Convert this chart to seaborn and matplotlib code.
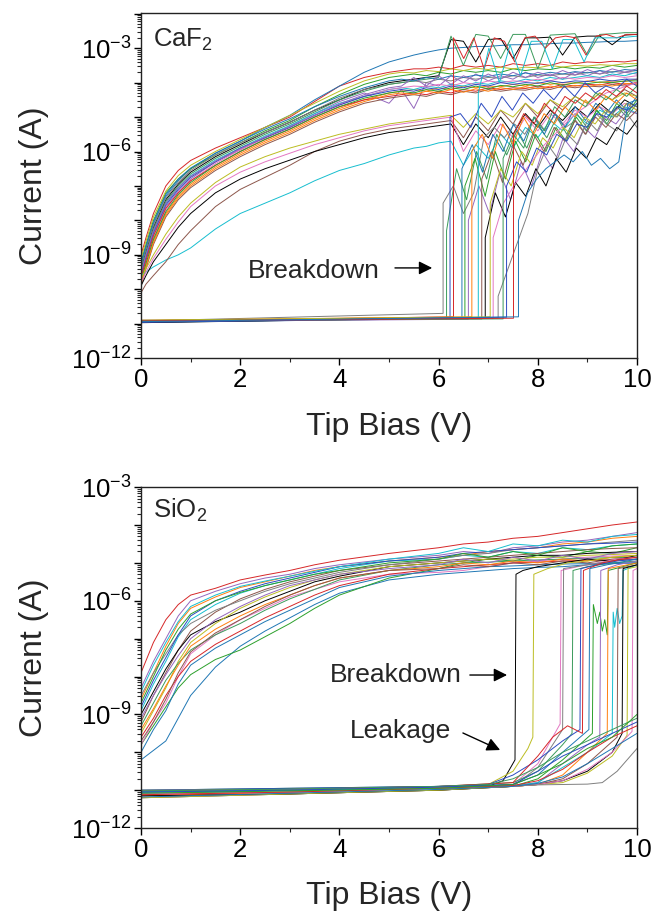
import numpy as np
import pandas as pd
import seaborn as sns
import matplotlib.pyplot as plt
from matplotlib.ticker import LogLocator, FuncFormatter, MultipleLocator

# ---------------- CaF2 panel (values are log10 of current in A) ----------------
caf2_grid = [0, 0.1, 0.25, 0.5, 0.75, 1, 1.5, 2, 2.5, 3, 3.5, 4, 4.5, 5, 5.25, 5.5, 5.75,
             6, 6.25, 6.5, 6.75, 7, 7.25, 7.5, 7.75, 8, 8.25, 8.5, 8.75, 9, 9.25, 9.5, 9.75, 10]

caf2_set = [
    [-9.0, -8.5, -7.8, -7.0, -6.55, -6.26, -5.9, -5.6, -5.3, -5.0, -4.55, -4.1, -3.85, -3.7, -3.65, -3.6, -3.6,
     -3.55, -3.6, -3.5, -3.55, -3.5, -3.55, -3.45, -3.5, -3.45, -3.5, -3.4, -3.45, -3.4, -3.42, -3.38, -3.4, -3.35],
    [-9.3, -8.8, -8.1, -7.3, -6.85, -6.5, -6.05, -5.7, -5.3, -4.95, -4.5, -4.1, -3.7, -3.4, -3.3, -3.2, -3.12,
     -3.05, -3.0, -2.98, -2.95, -2.95, -2.92, -2.9, -2.9, -2.88, -2.87, -2.85, -2.85, -2.83, -2.82, -2.8, -2.8, -2.78],
    [-9.2, -8.7, -8.0, -7.2, -6.8, -6.5, -6.1, -5.75, -5.4, -5.1, -4.7, -4.35, -4.05, -3.85, -3.8, -3.75, -3.8,
     -3.7, -3.75, -3.65, -3.7, -3.65, -3.7, -3.6, -3.65, -3.6, -3.62, -3.55, -3.6, -3.55, -3.58, -3.5, -3.55, -3.5],
    [-9.6, -9.1, -8.4, -7.6, -7.15, -6.8, -6.3, -5.95, -5.6, -5.25, -4.9, -4.55, -4.3, -4.6, -4.2, -4.75, -4.0,
     -4.1, -3.8, -4.0, -3.75, -3.95, -3.8, -3.9, -3.7, -3.85, -3.75, -3.9, -3.7, -3.8, -3.65, -3.8, -3.7, -3.75],
    [-9.8, -9.3, -8.6, -7.8, -7.3, -6.95, -6.45, -6.05, -5.7, -5.4, -5.05, -4.75, -4.5, -4.3, -4.25, -4.2, -4.25,
     -4.15, -4.2, -4.1, -4.15, -4.1, -4.12, -4.05, -4.1, -4.0, -4.05, -4.0, -4.02, -3.95, -4.0, -3.95, -3.97, -3.9],
    [-9.5, -9.0, -8.3, -7.5, -7.05, -6.7, -6.25, -5.9, -5.55, -5.25, -4.9, -4.6, -4.4, -4.2, -4.15, -4.2, -4.1,
     -4.15, -4.05, -4.1, -4.0, -4.05, -3.95, -4.0, -3.9, -3.95, -3.85, -3.9, -3.85, -3.8, -3.85, -3.75, -3.8, -3.7],
    [-9.9, -9.4, -8.7, -7.9, -7.4, -7.05, -6.55, -6.15, -5.8, -5.5, -5.15, -4.85, -4.6, -4.45, -4.4, -4.35, -4.4,
     -4.3, -4.35, -4.25, -4.3, -4.2, -4.25, -4.2, -4.22, -4.15, -4.2, -4.1, -4.15, -4.1, -4.12, -4.05, -4.1, -4.0],
    [-9.4, -8.9, -8.2, -7.4, -6.95, -6.6, -6.15, -5.8, -5.45, -5.15, -4.8, -4.5, -4.2, -4.0, -3.95, -3.9, -3.85,
     -3.8, -2.75, -2.8, -3.4, -2.75, -2.72, -3.3, -2.7, -2.7, -2.68, -3.2, -2.68, -2.65, -2.65, -2.9, -2.62, -2.6],
    [-9.1, -8.6, -7.9, -7.15, -6.7, -6.4, -6.0, -5.65, -5.3, -4.95, -4.6, -4.25, -3.95, -3.75, -3.7, -3.72, -3.65,
     -3.68, -3.6, -3.65, -3.58, -3.62, -3.55, -3.6, -3.55, -3.57, -3.5, -3.55, -3.5, -3.52, -3.48, -3.5, -3.45, -3.45],
    [-9.7, -9.2, -8.5, -7.7, -7.2, -6.85, -6.35, -5.95, -5.6, -5.3, -4.95, -4.65, -4.4, -4.2, -4.15, -4.1, -4.12,
     -4.05, -4.1, -4.0, -4.05, -3.95, -4.0, -3.95, -3.97, -3.9, -3.95, -3.85, -3.9, -3.85, -3.87, -3.8, -3.85, -3.8],
    [-9.35, -8.85, -8.15, -7.35, -6.9, -6.55, -6.1, -5.75, -5.45, -5.15, -4.8, -4.45, -4.2, -4.05, -4.0, -3.95, -4.0,
     -3.9, -3.95, -3.85, -3.9, -3.85, -3.87, -3.8, -3.85, -3.78, -3.8, -3.75, -3.78, -3.7, -3.75, -3.68, -3.7, -3.65],
    [-9.45, -8.95, -8.25, -7.45, -7.0, -6.65, -6.2, -5.85, -5.5, -5.2, -4.85, -4.5, -4.25, -4.05, -4.0, -3.95, -3.9,
     -3.85, -2.65, -3.5, -2.6, -2.65, -3.3, -2.6, -2.6, -3.6, -2.62, -2.6, -2.58, -3.2, -2.6, -2.58, -2.55, -2.55],
    [-9.55, -9.05, -8.35, -7.55, -7.1, -6.75, -6.3, -5.9, -5.6, -5.3, -4.95, -4.65, -4.4, -4.25, -4.2, -4.25, -4.15,
     -4.2, -4.1, -4.15, -4.05, -4.1, -4.0, -4.05, -4.0, -4.02, -3.95, -4.0, -3.95, -3.97, -3.9, -3.95, -3.9, -3.9],
    [-9.65, -9.15, -8.45, -7.65, -7.2, -6.85, -6.4, -6.0, -5.65, -5.35, -5.0, -4.7, -4.5, -4.4, -4.35, -4.3, -4.35,
     -4.25, -4.3, -4.2, -4.25, -4.15, -4.2, -4.15, -4.17, -4.1, -4.15, -4.05, -4.1, -4.05, -4.07, -4.0, -4.05, -4.0],
    [-9.25, -8.75, -8.05, -7.25, -6.8, -6.48, -6.05, -5.7, -5.35, -5.05, -4.7, -4.4, -4.15, -3.95, -3.9, -3.95, -3.85,
     -3.9, -3.8, -3.85, -3.78, -3.82, -3.75, -3.8, -3.72, -3.77, -3.7, -3.75, -3.68, -3.72, -3.65, -3.7, -3.62, -3.65],
    [-9.75, -9.25, -8.55, -7.75, -7.25, -6.9, -6.4, -6.0, -5.65, -5.35, -5.0, -4.7, -4.45, -4.3, -4.25, -4.3, -4.2,
     -4.25, -4.15, -4.2, -4.1, -4.18, -4.08, -4.12, -4.05, -4.1, -4.0, -4.08, -4.0, -4.03, -3.98, -4.0, -3.95, -3.95],
    [-9.5, -9.0, -8.3, -7.5, -7.05, -6.72, -6.28, -5.92, -5.58, -5.28, -4.95, -4.62, -4.35, -4.15, -4.1, -3.85, -4.1,
     -3.8, -4.05, -3.8, -3.95, -3.75, -3.9, -3.7, -3.85, -3.7, -3.8, -3.65, -3.78, -3.62, -3.75, -3.6, -3.7, -3.6],
    [-9.85, -9.35, -8.65, -7.85, -7.35, -7.0, -6.5, -6.1, -5.75, -5.45, -5.1, -4.8, -4.55, -4.35, -4.3, -4.35, -4.25,
     -4.3, -4.2, -4.28, -4.18, -4.25, -4.15, -4.2, -4.12, -4.18, -4.1, -4.15, -4.08, -4.12, -4.05, -4.1, -4.02, -4.05],
]

caf2_low = [
    [-9.6, -9.5, -9.35, -9.15, -9.0, -8.8, -8.25, -7.8, -7.5, -7.2, -6.85, -6.55, -6.35, -6.1, -6.0, -5.9, -5.85,
     -5.75, -5.7, -6.4, -5.8, -6.2, -5.5, -5.9, -5.3, -5.6, -5.1, -5.4, -4.9, -5.2, -4.8, -5.0, -4.7, -4.9],
    [-10.1, -9.85, -9.6, -9.2, -8.7, -8.3, -7.6, -7.1, -6.75, -6.4, -6.0, -5.7, -5.5, -5.35, -5.3, -5.25, -5.2,
     -5.15, -5.1, -5.6, -5.0, -5.4, -4.8, -5.2, -4.6, -5.0, -4.5, -4.8, -4.4, -4.6, -4.3, -4.5, -4.2, -4.4],
    [-9.9, -9.6, -9.2, -8.7, -8.2, -7.8, -7.2, -6.8, -6.5, -6.25, -6.0, -5.8, -5.6, -5.45, -5.4, -5.35, -5.3,
     -5.25, -5.2, -5.8, -5.2, -5.6, -5.0, -5.5, -4.9, -5.3, -4.8, -5.1, -4.7, -5.0, -4.6, -4.9, -4.5, -4.7],
    [-9.7, -9.4, -9.0, -8.4, -7.9, -7.5, -6.9, -6.45, -6.15, -5.9, -5.7, -5.5, -5.35, -5.2, -5.15, -5.1, -5.05,
     -5.0, -4.95, -5.3, -4.9, -5.2, -4.8, -5.0, -4.6, -4.9, -4.5, -4.7, -4.4, -4.6, -4.3, -4.5, -4.3, -4.4],
    [-9.8, -9.5, -9.1, -8.55, -8.05, -7.6, -7.0, -6.6, -6.3, -6.05, -5.8, -5.6, -5.4, -5.25, -5.2, -5.15, -5.1,
     -5.05, -5.0, -6.0, -5.4, -5.8, -5.2, -5.6, -5.0, -5.4, -4.9, -5.2, -4.8, -5.0, -4.7, -4.9, -4.6, -4.8],
]

caf2_bd_volt = [6.09, 6.16, 6.23, 6.30, 6.47, 6.53, 6.60, 6.67, 6.80, 6.87, 6.94, 7.04, 7.10, 7.20, 7.30, 7.37,
                7.51, 7.61]
caf2_bd_start = [-10.92, -10.95, -10.9, -10.93, -10.96, -10.91, -10.94, -10.9, -10.95, -10.92, -10.97, -10.9,
                 -10.93, -10.95, -10.91, -10.96, -10.92, -10.94]
caf2_bd_end = [-10.7, -10.82, -10.86, -10.8, -10.85, -10.83, -10.87, -10.8, -10.84, -10.86, -10.82, -10.8,
               -10.85, -10.83, -10.86, -10.81, -10.84, -10.8]
caf2_bd_after = [
    [-7.5, -7.0, -7.8, -7.2, -5.6, -5.3, -5.6, -5.2, -5.5, -5.0, -5.4, -4.9, -5.3, -5.1, -5.5, -4.9, -5.2, -5.4, -4.9, -5.3],
    [-8.3, -6.5, -7.4, -6.0, -6.8, -5.5, -6.1, -5.4, -5.9, -5.2, -5.6, -5.0, -5.5, -4.9, -5.3, -4.8, -5.2, -4.7, -5.0, -4.6],
    [-5.0, -4.9, -5.3, -4.6, -5.0, -4.4, -4.8, -4.3, -4.6, -4.2, -4.5, -4.1, -4.4, -4.0, -4.3, -4.1, -4.2, -3.9, -4.1],
    [-2.7, -3.3, -2.7, -3.6, -2.7, -2.8, -3.4, -2.7, -2.65, -3.0, -2.7, -2.65, -2.7, -3.2, -2.65, -2.6, -2.7, -2.6, -2.6],
    [-6.5, -5.8, -6.6, -5.5, -6.0, -5.2, -5.7, -5.0, -5.5, -4.9, -5.3, -4.7, -5.1, -4.6, -4.9, -4.5, -4.8, -4.4],
    [-7.0, -6.2, -7.3, -6.0, -6.8, -5.7, -6.3, -5.5, -6.0, -5.3, -5.7, -5.0, -5.4, -4.8, -5.1, -4.6, -4.9, -4.5],
    [-8.0, -7.0, -7.8, -6.6, -7.4, -6.3, -7.0, -6.0, -6.5, -5.6, -6.0, -5.3, -5.6, -5.0, -5.2, -4.8, -4.9],
    [-6.0, -5.5, -6.2, -5.2, -5.8, -5.0, -5.5, -4.9, -5.2, -4.7, -5.0, -4.5, -4.8, -4.4, -4.6, -4.3, -4.5],
    [-4.3, -3.0, -4.0, -2.9, -3.8, -2.8, -2.8, -3.6, -2.75, -2.75, -3.4, -2.7, -2.7, -2.7, -2.68, -2.65],
    [-6.8, -6.0, -6.9, -5.8, -6.4, -5.5, -6.0, -5.3, -5.7, -5.1, -5.5, -5.0, -5.3, -4.9, -5.1, -4.8],
    [-8.5, -7.2, -7.9, -6.9, -7.3, -6.5, -7.0, -6.2, -6.6, -5.9, -6.2, -5.6, -5.8, -5.3, -5.5, -5.1],
    [-7.5, -6.5, -7.0, -6.0, -6.4, -5.6, -5.9, -5.3, -5.6, -5.0, -5.2, -4.8, -5.0, -4.6, -4.8],
    [-8.5, -7.5, -7.0, -6.6, -6.2, -5.8, -5.5, -5.2, -4.9, -4.7, -4.5, -4.3, -4.2, -4.1, -4.0],
    [-10.2, -9.4, -8.6, -7.8, -6.5, -5.8, -6.2, -5.5, -5.8, -5.1, -5.4, -4.8, -5.0, -4.6, -4.7],
    [-6.2, -5.5, -5.9, -5.0, -5.4, -4.7, -5.0, -4.5, -4.7, -4.3, -4.5, -4.2, -4.4, -4.1],
    [-7.0, -6.3, -6.6, -5.9, -6.1, -5.5, -5.7, -5.2, -5.3, -4.9, -5.0, -4.7, -4.8, -4.6],
    [-5.5, -4.9, -5.2, -4.6, -4.9, -4.4, -4.6, -4.3, -4.5, -4.2, -4.4, -4.1, -4.3],
    [-8.0, -7.2, -6.8, -6.5, -6.3, -6.1, -6.3, -6.0, -6.4, -6.2, -6.5, -6.3, -4.6, -4.5],
]

# ---------------- SiO2 panel ----------------
sio2_grid = [0, 0.25, 0.5, 0.75, 1, 1.5, 2, 2.5, 3, 3.5, 4, 5, 6, 6.5, 7, 7.5, 8, 8.5, 9, 9.5, 10]

sio2_set = [
    [-7.9, -7.1, -6.5, -6.1, -5.85, -5.67, -5.45, -5.32, -5.2, -5.05, -4.93, -4.75, -4.6, -4.5, -4.45, -4.35, -4.3, -4.2, -4.1, -4.0, -3.92],
    [-10.2, -9.95, -9.7, -9.1, -8.5, -7.75, -7.2, -6.8, -6.45, -6.1, -5.8, -5.45, -5.3, -5.25, -5.2, -5.15, -5.12, -5.1, -5.05, -5.02, -5.0],
    [-9.8, -9.3, -8.8, -8.3, -7.95, -7.55, -7.3, -6.95, -6.6, -6.2, -5.85, -5.4, -5.15, -5.0, -4.9, -4.95, -4.8, -4.85, -4.7, -4.75, -4.6],
    [-8.3, -7.6, -7.0, -6.4, -6.0, -5.75, -5.55, -5.4, -5.3, -5.15, -5.05, -4.9, -4.8, -4.7, -4.75, -4.6, -4.55, -4.45, -4.4, -4.3, -4.2],
    [-8.6, -7.9, -7.2, -6.6, -6.2, -5.9, -5.65, -5.5, -5.35, -5.2, -5.1, -4.95, -4.85, -4.8, -4.7, -4.65, -4.6, -4.5, -4.45, -4.35, -4.3],
    [-8.9, -8.2, -7.6, -6.95, -6.5, -6.1, -5.8, -5.6, -5.45, -5.3, -5.15, -4.95, -4.9, -4.8, -4.85, -4.7, -4.75, -4.6, -4.65, -4.55, -4.5],
    [-9.2, -8.5, -7.9, -7.3, -6.8, -6.3, -5.95, -5.7, -5.5, -5.35, -5.2, -5.05, -4.95, -4.9, -4.85, -4.8, -4.75, -4.7, -4.65, -4.62, -4.6],
    [-9.0, -8.4, -7.8, -7.3, -6.9, -6.55, -6.3, -6.0, -5.75, -5.5, -5.35, -5.1, -5.0, -4.95, -4.9, -4.85, -4.8, -4.8, -4.75, -4.72, -4.7],
    [-9.5, -8.9, -8.3, -7.6, -7.1, -6.6, -6.2, -5.9, -5.65, -5.45, -5.3, -5.1, -5.0, -4.95, -4.9, -4.9, -4.85, -4.85, -4.8, -4.78, -4.75],
    [-9.8, -9.2, -8.7, -8.0, -7.4, -6.9, -6.5, -6.2, -5.9, -5.7, -5.5, -5.3, -5.25, -5.2, -5.1, -5.0, -4.95, -4.9, -4.85, -4.82, -4.8],
    [-8.5, -7.9, -7.4, -6.9, -6.6, -6.25, -6.0, -5.75, -5.55, -5.4, -5.25, -5.05, -4.9, -4.8, -4.75, -4.65, -4.6, -4.55, -4.5, -4.45, -4.4],
    [-9.3, -8.7, -8.1, -7.65, -7.3, -6.9, -6.6, -6.25, -5.95, -5.7, -5.45, -5.2, -5.05, -5.0, -4.98, -4.95, -4.92, -4.9, -4.88, -4.86, -4.85],
    [-8.8, -8.1, -7.5, -6.9, -6.4, -6.0, -5.75, -5.55, -5.4, -5.25, -5.1, -4.95, -4.85, -4.75, -4.7, -4.65, -4.6, -4.55, -4.5, -4.48, -4.45],
    [-9.6, -9.1, -8.5, -8.0, -7.6, -7.15, -6.8, -6.45, -6.15, -5.85, -5.6, -5.3, -5.15, -5.1, -5.05, -5.0, -4.98, -4.95, -4.93, -4.92, -4.9],
    [-10.0, -9.4, -8.9, -8.2, -7.7, -7.25, -6.9, -6.55, -6.25, -5.95, -5.65, -5.35, -5.2, -5.15, -5.1, -5.08, -5.05, -5.03, -5.02, -5.0, -5.0],
    [-8.7, -8.0, -7.3, -6.75, -6.35, -6.0, -5.78, -5.6, -5.45, -5.3, -5.2, -5.0, -4.9, -4.75, -4.85, -4.7, -4.8, -4.6, -4.7, -4.55, -4.5],
    [-9.1, -8.5, -7.95, -7.45, -7.0, -6.5, -6.15, -5.85, -5.6, -5.45, -5.3, -5.15, -5.05, -4.9, -5.0, -4.85, -4.95, -4.8, -4.9, -4.75, -4.7],
    [-9.4, -8.85, -8.25, -7.7, -7.2, -6.75, -6.4, -6.1, -5.85, -5.6, -5.4, -5.2, -5.1, -5.0, -5.05, -4.95, -5.0, -4.9, -4.95, -4.85, -4.8],
    [-8.4, -7.7, -7.1, -6.55, -6.15, -5.85, -5.62, -5.48, -5.35, -5.22, -5.1, -4.9, -4.75, -4.6, -4.7, -4.5, -4.55, -4.4, -4.45, -4.3, -4.25],
    [-9.7, -9.2, -8.6, -7.9, -7.35, -6.85, -6.5, -6.15, -5.85, -5.6, -5.4, -5.2, -5.15, -5.05, -5.1, -5.0, -5.05, -4.95, -5.0, -4.9, -4.85],
]

sio2_low_volt = [
    [0, 3, 6, 7, 7.3, 7.54, 7.56, 7.7, 8, 8.5, 9, 9.5, 10],
    [0, 3, 6, 7, 7.5, 7.8, 7.9, 7.92, 8.2, 8.6, 9, 9.5, 10],
    [0, 3, 6, 7.5, 8, 8.3, 8.45, 8.47, 8.8, 9.2, 9.6, 10],
    [0, 3, 6, 7.5, 8, 8.4, 8.5, 8.52, 9, 9.5, 10],
    [0, 3, 6, 7.5, 8, 8.5, 8.69, 8.71, 9, 9.5, 10],
    [0, 3, 6, 7, 7.5, 8, 8.5, 8.85, 8.87, 9.2, 9.6, 10],
    [0, 3, 6, 7.5, 8, 8.3, 8.6, 8.9, 8.92, 9.3, 9.7, 10],
    [0, 3, 6, 7.5, 8, 8.5, 9.03, 9.05, 9.4, 10],
    [0, 3, 6, 7.5, 8, 8.5, 9.1, 9.12, 9.2, 9.25, 9.3, 9.35, 9.4, 9.42, 10],
    [0, 3, 6, 7.5, 8, 8.5, 9, 9.25, 9.27, 9.6, 10],
    [0, 3, 6, 7.5, 8, 8.5, 9, 9.4, 9.42, 10],
    [0, 3, 6, 7.5, 8, 8.5, 9, 9.5, 9.52, 9.55, 9.6, 9.65, 9.7, 9.72, 10],
    [0, 3, 6, 7.5, 8, 8.5, 9, 9.6, 9.62, 10],
    [0, 3, 6, 7.5, 8, 8.5, 9, 9.5, 9.7, 9.72, 10],
    [0, 3, 6, 7.5, 8, 8.5, 9, 9.5, 9.8, 9.82, 10],
    [0, 3, 6, 7.5, 8, 8.5, 9, 9.5, 9.9, 9.92, 10],
    [0, 3, 6, 7.5, 8, 8.5, 9, 9.3, 9.6, 9.8, 10],
    [0, 3, 6, 7, 7.5, 8, 8.5, 9, 9.5, 10],
    [0, 3, 6, 7.5, 8, 8.5, 9, 9.5, 10],
    [0, 3, 6, 7.5, 8, 8.5, 9, 9.5, 10],
    [0, 3, 6, 7.5, 8, 8.5, 9, 9.5, 10],
    [0, 3, 6, 7.5, 8, 8.5, 9, 9.5, 10],
]
sio2_low_curr = [
    [-11.05, -11.0, -10.95, -10.9, -10.75, -10.2, -5.3, -5.2, -5.1, -5.0, -4.9, -4.95, -4.8],
    [-11.1, -11.05, -10.95, -10.85, -10.5, -9.9, -9.6, -5.3, -5.15, -5.0, -4.95, -4.85, -4.8],
    [-11.15, -11.05, -10.95, -10.85, -10.3, -9.6, -9.25, -5.2, -5.1, -5.0, -4.9, -4.85],
    [-11.2, -11.1, -11.0, -10.9, -10.4, -9.6, -9.4, -5.15, -5.05, -4.95, -4.9],
    [-11.0, -10.95, -10.9, -10.8, -10.5, -9.8, -9.5, -5.2, -5.1, -5.0, -4.95],
    [-11.0, -10.95, -10.9, -10.85, -10.6, -10.2, -9.7, -9.4, -5.15, -5.05, -4.95, -4.9],
    [-11.02, -10.98, -10.9, -10.8, -10.1, -9.6, -9.3, -9.5, -5.2, -5.0, -4.9, -4.85],
    [-11.05, -11.0, -10.9, -10.85, -10.6, -10.0, -9.4, -5.15, -5.05, -4.9],
    [-11.1, -11.0, -10.95, -10.9, -10.7, -10.2, -9.5, -6.1, -6.6, -6.3, -6.8, -6.5, -6.9, -5.2, -5.0],
    [-11.1, -11.05, -10.95, -10.9, -10.8, -10.3, -9.8, -9.6, -5.2, -5.05, -4.95],
    [-11.15, -11.05, -10.95, -10.9, -10.85, -10.6, -10.0, -9.5, -5.15, -5.0],
    [-11.05, -11.0, -10.95, -10.88, -10.8, -10.4, -10.0, -9.5, -6.3, -6.7, -6.2, -6.6, -6.4, -5.2, -5.05],
    [-11.2, -11.1, -11.0, -10.9, -10.85, -10.7, -10.3, -9.6, -5.15, -5.05],
    [-11.15, -11.1, -11.0, -10.9, -10.85, -10.75, -10.5, -10.0, -9.5, -5.15, -5.05],
    [-11.2, -11.1, -11.0, -10.9, -10.85, -10.8, -10.55, -10.1, -9.55, -5.15, -5.1],
    [-11.1, -11.05, -10.95, -10.9, -10.85, -10.75, -10.45, -10.0, -9.45, -5.2, -5.15],
    [-11.0, -10.98, -10.92, -10.88, -10.86, -10.85, -10.84, -10.8, -10.5, -10.2, -9.9],
    [-11.02, -10.97, -10.9, -10.85, -10.7, -10.4, -10.0, -9.7, -9.4, -9.1],
    [-11.05, -11.0, -10.92, -10.85, -10.5, -10.1, -9.8, -9.5, -9.2],
    [-11.12, -11.05, -10.95, -10.88, -10.75, -10.45, -10.0, -9.6, -9.3],
    [-11.18, -11.08, -10.98, -10.9, -10.82, -10.65, -10.3, -9.9, -9.5],
    [-11.08, -11.02, -10.95, -10.85, -10.6, -10.3, -9.9, -9.6, -9.0],
]

trace_colors = ['#d62728', '#1f77b4', '#2ca02c', '#9467bd', '#ff7f0e', '#17becf', '#8c564b',
                '#000000', '#bcbd22', '#e377c2', '#7f7f7f', '#3a9a5b', '#2b4ac0']

rows = []


def add_curve(panel, name, volts, logi):
    for v, li in zip(volts, logi):
        rows.append({"panel": panel, "curve": name, "bias": v, "current": 10.0 ** li})


for k, li in enumerate(caf2_set):
    add_curve("CaF2", f"caf2_set{k}", caf2_grid, li)
for k, li in enumerate(caf2_low):
    add_curve("CaF2", f"caf2_low{k}", caf2_grid, li)
for k, vbd in enumerate(caf2_bd_volt):
    after = caf2_bd_after[k]
    volts = [0, vbd] + list(np.linspace(vbd, 10, len(after)))
    add_curve("CaF2", f"caf2_bd{k}", volts, [caf2_bd_start[k], caf2_bd_end[k]] + after)
for k, li in enumerate(sio2_set):
    add_curve("SiO2", f"sio2_set{k}", sio2_grid, li)
for k in range(len(sio2_low_volt)):
    add_curve("SiO2", f"sio2_low{k}", sio2_low_volt[k], sio2_low_curr[k])

df = pd.DataFrame(rows)

sns.set_style("ticks")
plt.rcParams["font.family"] = ["Liberation Sans", "DejaVu Sans"]
plt.rcParams["mathtext.fontset"] = "custom"
plt.rcParams["mathtext.rm"] = "Liberation Sans"
plt.rcParams["mathtext.it"] = "Liberation Sans:italic"

fig = plt.figure(figsize=(6.53, 9.16), dpi=100)
ax_top = fig.add_axes([0.216, 0.609, 0.7595, 0.3768])
ax_bot = fig.add_axes([0.216, 0.096, 0.7595, 0.3722])


def log_label(y, pos):
    e = int(round(np.log10(y)))
    return rf"$\mathdefault{{10^{{{e}}}}}$" if e % 3 == 0 else ""


for ax, panel, ylim in [(ax_top, "CaF2", (1e-12, 1.05e-2)), (ax_bot, "SiO2", (1e-12, 1e-3))]:
    sub = df[df.panel == panel]
    names = list(sub.curve.unique())
    pal = {n: trace_colors[i % len(trace_colors)] for i, n in enumerate(names)}
    sns.lineplot(data=sub, x="bias", y="current", hue="curve", palette=pal, estimator=None,
                 sort=False, legend=False, lw=0.7, ax=ax)
    ax.set_yscale("log")
    ax.set_xlim(0, 10)
    ax.set_ylim(*ylim)
    ax.xaxis.set_major_locator(MultipleLocator(2))
    ax.xaxis.set_minor_locator(MultipleLocator(1))
    ax.yaxis.set_major_locator(LogLocator(base=10, numticks=20))
    ax.yaxis.set_minor_locator(LogLocator(base=10, subs=np.arange(2, 10), numticks=20))
    ax.yaxis.set_major_formatter(FuncFormatter(log_label))
    ax.tick_params(which="major", labelsize=18.5, length=5, width=1, direction="out", pad=2,
                   colors="black")
    ax.tick_params(which="minor", length=3, width=0.8, direction="out")
    for s in ax.spines.values():
        s.set_visible(True)
        s.set_color("#222222")
        s.set_linewidth(1.0)
    ax.set_xlabel("Tip Bias (V)", fontsize=23)
    ax.set_ylabel("Current (A)", fontsize=23)
    ax.xaxis.set_label_coords(0.5, -0.155)
    ax.yaxis.set_label_coords(-0.185, 0.5)

arrow = dict(arrowstyle="-|>", color="black", lw=1.0, mutation_scale=20, shrinkA=0, shrinkB=0)

ax_top.text(0.024, 0.901, "CaF$_2$", transform=ax_top.transAxes, fontsize=18.5, va="baseline")
ax_top.text(4.82, 10 ** -9.67, "Breakdown", fontsize=19, ha="right", va="baseline")
ax_top.annotate("", xy=(5.87, 10 ** -9.38), xytext=(5.12, 10 ** -9.38), arrowprops=arrow)

ax_bot.text(0.024, 0.909, "SiO$_2$", transform=ax_bot.transAxes, fontsize=18.5, va="baseline")
ax_bot.text(6.47, 10 ** -8.15, "Breakdown", fontsize=19, ha="right", va="baseline")
ax_bot.annotate("", xy=(7.38, 10 ** -7.96), xytext=(6.63, 10 ** -7.96), arrowprops=arrow)
ax_bot.text(6.26, 10 ** -9.62, "Leakage", fontsize=19, ha="right", va="baseline")
ax_bot.annotate("", xy=(7.24, 10 ** -9.94), xytext=(6.49, 10 ** -9.49), arrowprops=arrow)

fig.savefig("out.png", dpi=100)
